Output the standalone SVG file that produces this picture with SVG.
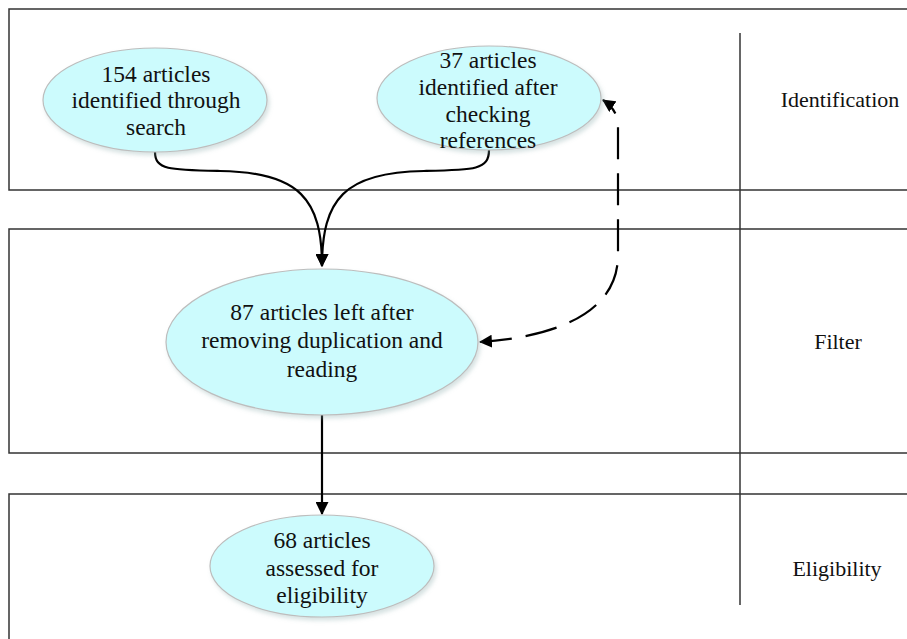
<svg xmlns="http://www.w3.org/2000/svg" width="907" height="639" viewBox="0 0 907 639">
<style>
.lane{fill:none;stroke:#333;stroke-width:1.5}
.node ellipse{fill:#CCFBFD;stroke:#BDBDBD;stroke-width:1.2;filter:url(#sh)}
.node text{font-size:23.5px;fill:#111;text-anchor:middle}
.lbl{font-size:22px;fill:#111;text-anchor:middle}
.conn{fill:none;stroke:#000;stroke-width:2.2}
</style>
<defs>
<filter id="sh" x="-10%" y="-10%" width="130%" height="130%">
<feDropShadow dx="2" dy="3" stdDeviation="2" flood-color="#8aa" flood-opacity="0.35"/>
</filter>
<marker id="ah" viewBox="0 0 12 12" refX="11" refY="6" markerWidth="13" markerHeight="13" markerUnits="userSpaceOnUse" orient="auto">
<path d="M0,0 L12,6 L0,12 Z" fill="#000"/>
</marker>
<marker id="ahs" viewBox="0 0 12 12" refX="11" refY="6" markerWidth="13" markerHeight="13" markerUnits="userSpaceOnUse" orient="auto-start-reverse">
<path d="M0,0 L12,6 L0,12 Z" fill="#000"/>
</marker>
</defs>
<g id="lanes" font-family="'Liberation Serif', Tinos, 'DejaVu Serif', 'Noto Serif', serif">
<rect class="lane" x="9" y="9" width="1000" height="181"/>
<rect class="lane" x="9" y="229" width="1000" height="224"/>
<rect class="lane" x="9" y="494" width="1000" height="200"/>
<line class="lane" x1="740" y1="33" x2="740" y2="605"/>
<text class="lbl" x="840" y="107">Identification</text>
<text class="lbl" x="838" y="349">Filter</text>
<text class="lbl" x="837" y="576">Eligibility</text>
</g>
<g id="connectors">
<path class="conn" d="M155,152 C155,170 170,170 220,171 C300,172 322,200 322,266" marker-end="url(#ah)"/>
<path class="conn" d="M489,150 C489,170 474,170 424,171 C344,172 322,200 322,266" marker-end="url(#ah)"/>
<path class="conn" d="M322,415 L322,514" marker-end="url(#ah)"/>
<path class="conn" d="M480,342 C540,338 618,320 618,255 L618,126 C618,114 612,106 603,100" stroke-dasharray="32 14" marker-start="url(#ahs)" marker-end="url(#ah)"/>
</g>
<g id="n1" class="node" font-family="'Liberation Serif', Tinos, 'DejaVu Serif', 'Noto Serif', serif">
<ellipse cx="155" cy="100" rx="112" ry="52"/>
<text x="156" y="82">154 articles</text>
<text x="156" y="108">identified through</text>
<text x="156" y="135">search</text>
</g>
<g id="n2" class="node" font-family="'Liberation Serif', Tinos, 'DejaVu Serif', 'Noto Serif', serif">
<ellipse cx="489" cy="98" rx="112" ry="52"/>
<text x="488" y="68">37 articles</text>
<text x="488" y="95">identified after</text>
<text x="488" y="122">checking</text>
<text x="488" y="148">references</text>
</g>
<g id="n3" class="node" font-family="'Liberation Serif', Tinos, 'DejaVu Serif', 'Noto Serif', serif">
<ellipse cx="322" cy="342" rx="156" ry="73"/>
<text x="322" y="320">87 articles left after</text>
<text x="322" y="348">removing duplication and</text>
<text x="322" y="377">reading</text>
</g>
<g id="n4" class="node" font-family="'Liberation Serif', Tinos, 'DejaVu Serif', 'Noto Serif', serif">
<ellipse cx="322" cy="566" rx="112" ry="51"/>
<text x="322" y="548">68 articles</text>
<text x="322" y="576">assessed for</text>
<text x="322" y="603">eligibility</text>
</g>
</svg>
